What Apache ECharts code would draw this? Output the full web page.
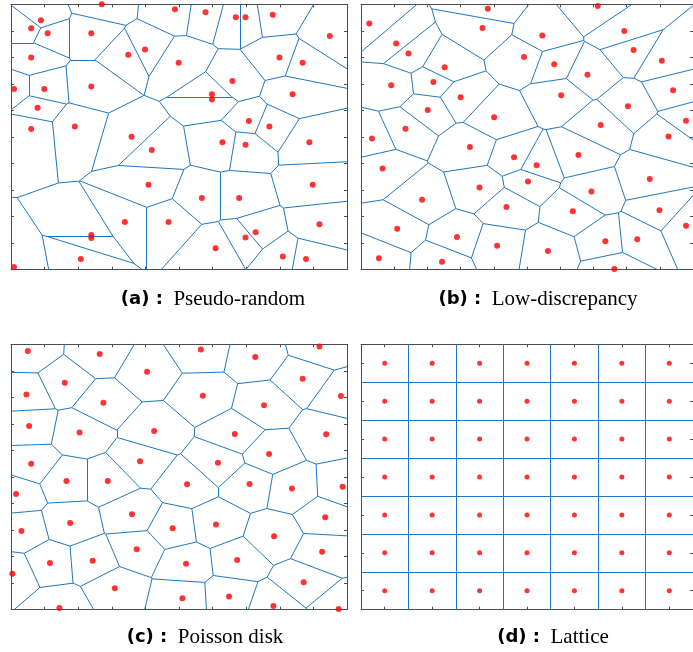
<!DOCTYPE html>
<html>
<head>
<meta charset="utf-8">
<script src="https://cdn.jsdelivr.net/npm/echarts@6/dist/echarts.min.js"></script>
<style>html,body{margin:0;padding:0;background:#fff}#c{width:693px;height:652px}</style>
</head>
<body>
<div id="c"></div>
<script>
// ---- data (unit square coordinates) ----
const pseudoRandom = [
 [0.270,1.000],[0.089,0.940],[0.060,0.910],[0.109,0.891],[0.239,0.891],[0.488,0.981],[0.579,0.970],[0.669,0.951],[0.698,0.951],[0.779,0.961],
 [0.949,0.881],[0.060,0.800],[0.349,0.810],[0.399,0.830],[0.499,0.780],[0.799,0.800],[0.868,0.780],[0.009,0.681],[0.099,0.681],[0.239,0.690],
 [0.659,0.711],[0.598,0.661],[0.598,0.641],[0.838,0.661],[0.079,0.610],[0.060,0.530],[0.190,0.540],[0.708,0.560],[0.769,0.540],[0.359,0.501],
 [0.419,0.451],[0.629,0.480],[0.698,0.471],[0.888,0.480],[0.409,0.320],[0.568,0.270],[0.679,0.270],[0.898,0.320],[0.339,0.180],[0.469,0.180],
 [0.239,0.131],[0.239,0.119],[0.728,0.141],[0.698,0.121],[0.918,0.171],[0.609,0.081],[0.208,0.040],[0.809,0.050],[0.878,0.040],[0.009,0.010]
];
const lowDiscrepancy = [
 [0.382,0.983],[0.713,0.994],[0.025,0.928],[0.366,0.911],[0.106,0.852],[0.143,0.815],[0.546,0.882],[0.793,0.899],[0.821,0.828],[0.906,0.787],
 [0.491,0.801],[0.582,0.774],[0.252,0.763],[0.682,0.735],[0.091,0.695],[0.218,0.707],[0.300,0.650],[0.603,0.657],[0.940,0.676],[0.201,0.602],
 [0.804,0.616],[0.401,0.574],[0.134,0.531],[0.722,0.545],[0.979,0.561],[0.033,0.494],[0.926,0.502],[0.328,0.462],[0.461,0.424],[0.529,0.394],
 [0.655,0.432],[0.065,0.381],[0.503,0.332],[0.357,0.310],[0.870,0.342],[0.694,0.295],[0.184,0.264],[0.438,0.236],[0.638,0.220],[0.899,0.224],
 [0.109,0.154],[0.289,0.123],[0.979,0.166],[0.410,0.090],[0.736,0.107],[0.832,0.115],[0.563,0.070],[0.054,0.043],[0.244,0.030],[0.763,0.003]
];
const poissonDisk = [
 [0.050,0.975],[0.264,0.963],[0.565,0.980],[0.727,0.952],[0.918,0.992],[0.405,0.897],[0.160,0.855],[0.868,0.870],[0.046,0.811],[0.275,0.780],
 [0.571,0.806],[0.753,0.770],[0.982,0.805],[0.054,0.692],[0.204,0.668],[0.426,0.673],[0.666,0.662],[0.938,0.661],[0.768,0.587],[0.060,0.550],
 [0.384,0.559],[0.616,0.554],[0.015,0.436],[0.165,0.485],[0.288,0.485],[0.524,0.473],[0.710,0.474],[0.836,0.457],[0.987,0.463],[0.360,0.360],
 [0.176,0.327],[0.031,0.297],[0.481,0.307],[0.610,0.321],[0.935,0.348],[0.783,0.277],[0.374,0.228],[0.116,0.176],[0.243,0.184],[0.521,0.173],
 [0.673,0.187],[0.926,0.218],[0.004,0.135],[0.871,0.103],[0.309,0.081],[0.510,0.043],[0.649,0.050],[0.144,0.006],[0.781,0.014],[0.975,0.003]
];
const latticeCoords = [1/14, 3/14, 5/14, 7/14, 9/14, 11/14, 13/14];
const tickValues = [0,0.1,0.2,0.3,0.4,0.5,0.6,0.7,0.8,0.9,1];
const captionTags = ['(a) :', '(b) :', '(c) :', '(d) :'];
const captionNames = ['Pseudo-random', 'Low-discrepancy', 'Poisson disk', 'Lattice'];

// ---- build lattice points ----
const lattice = [];
latticeCoords.forEach(y => latticeCoords.forEach(x => lattice.push([x, y])));
const panels = [pseudoRandom, lowDiscrepancy, poissonDisk, lattice];

// ---- Voronoi edges clipped to the unit square ----
function voronoiEdges(pts) {
  const edges = [];
  for (let i = 0; i < pts.length; i++) {
    let poly = [{x:0,y:0,l:-1},{x:1,y:0,l:-1},{x:1,y:1,l:-1},{x:0,y:1,l:-1}];
    const px = pts[i][0], py = pts[i][1];
    for (let j = 0; j < pts.length && poly.length; j++) {
      if (j === i) continue;
      const qx = pts[j][0], qy = pts[j][1];
      const nx = qx - px, ny = qy - py;
      const c = (nx * (qx + px) + ny * (qy + py)) / 2;
      const out = [];
      for (let k = 0; k < poly.length; k++) {
        const a = poly[k], b = poly[(k + 1) % poly.length];
        const da = nx * a.x + ny * a.y - c, db = nx * b.x + ny * b.y - c;
        const ina = da <= 1e-12, inb = db <= 1e-12;
        if (ina) out.push(a);
        if (ina !== inb) {
          const t = da / (da - db);
          out.push({x: a.x + t * (b.x - a.x), y: a.y + t * (b.y - a.y), l: ina ? j : a.l});
        }
      }
      poly = out;
    }
    for (let k = 0; k < poly.length; k++) {
      const a = poly[k], b = poly[(k + 1) % poly.length];
      if (a.l > i && (Math.abs(a.x - b.x) + Math.abs(a.y - b.y)) > 1e-9) {
        edges.push({coords: [[a.x, a.y], [b.x, b.y]]});
      }
    }
  }
  return edges;
}

const grids = [
  {left: 11, top: 4.3, width: 336, height: 265.4},
  {left: 361, top: 4.3, width: 336, height: 265.4},
  {left: 11, top: 344.3, width: 336, height: 265.4},
  {left: 361, top: 344.3, width: 336, height: 265.4}
];
const captionPos = [[208, 297], [533, 297], [200, 635], [548, 635]];

const axisColor = '#4d4d4d';
const xAxis = [], yAxis = [], series = [], title = [];
grids.forEach((g, gi) => {
  const ticks = gi === 3 ? latticeCoords : tickValues;
  const mk = (gIdx, pos) => ({
    type: 'value', gridIndex: gIdx, position: pos, min: 0, max: 1,
    axisLine: {show: true, onZero: false, lineStyle: {color: axisColor, width: 1}},
    axisTick: {show: true, inside: true, length: 3, customValues: ticks, lineStyle: {color: axisColor, width: 1}},
    axisLabel: {show: false},
    splitLine: {show: false}
  });
  xAxis.push(mk(gi, 'bottom'), mk(gi, 'top'));
  yAxis.push(mk(gi, 'left'), mk(gi, 'right'));
  series.push({
    type: 'lines', coordinateSystem: 'cartesian2d', xAxisIndex: 2 * gi, yAxisIndex: 2 * gi,
    polyline: false, silent: true, animation: false, clip: true,
    lineStyle: {color: '#1f77c0', width: 1, opacity: 1},
    data: voronoiEdges(panels[gi])
  });
  series.push({
    type: 'scatter', xAxisIndex: 2 * gi, yAxisIndex: 2 * gi, silent: true, animation: false, clip: false,
    symbol: 'circle', symbolSize: gi === 3 ? 5 : 6,
    itemStyle: {color: '#ff0000'},
    data: panels[gi]
  });
  title.push({
    text: '{b|' + captionTags[gi] + '}  {s|' + captionNames[gi] + '}',
    left: captionPos[gi][0], top: captionPos[gi][1] - 13, textAlign: 'center',
    textStyle: {
      fontWeight: 'normal', fontSize: 21, fontFamily: 'Liberation Serif', color: '#000',
      rich: {
        b: {fontFamily: 'DejaVu Sans', fontWeight: 'bold', fontSize: 18, color: '#000'},
        s: {fontFamily: 'Liberation Serif', fontWeight: 'normal', fontSize: 21, color: '#000'}
      }
    }
  });
});

const chart = echarts.init(document.getElementById('c'), null, {renderer: 'canvas'});
chart.setOption({
  animation: false,
  backgroundColor: '#fff',
  grid: grids,
  xAxis, yAxis, series, title
});
</script>
</body>
</html>
